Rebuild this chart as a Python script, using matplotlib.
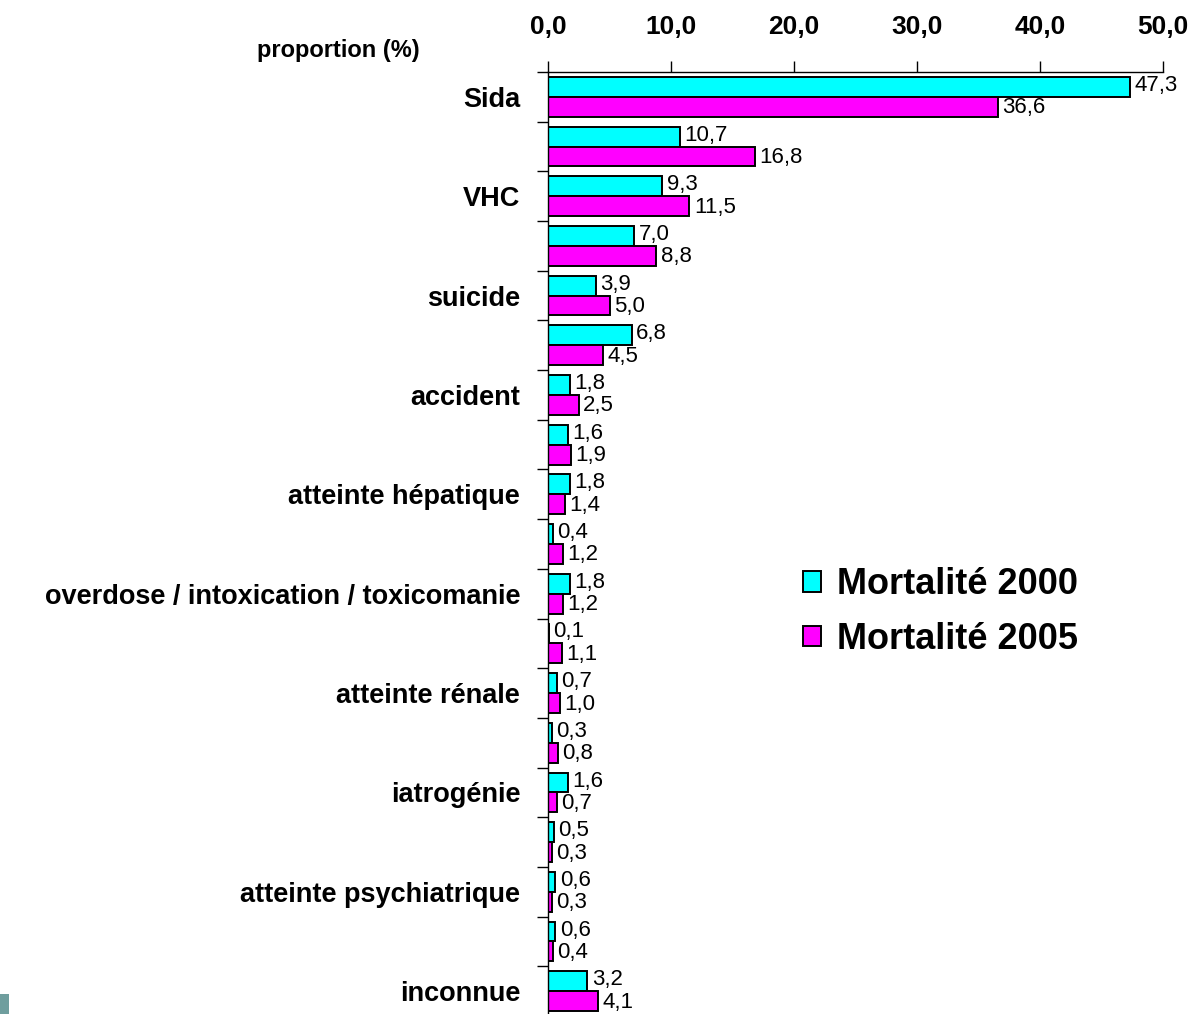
import numpy as np
import matplotlib
matplotlib.use('Agg')
import matplotlib.pyplot as plt
from matplotlib.patches import Rectangle

plt.rcParams['font.family'] = ['Liberation Sans', 'DejaVu Sans']

# categories (only every other one carries a label)
categories = ['Sida', '', 'VHC', '', 'suicide', '', 'accident', '',
              'atteinte hépatique', '', 'overdose / intoxication / toxicomanie', '',
              'atteinte rénale', '', 'iatrogénie', '', 'atteinte psychiatrique', '',
              'inconnue']
mort_2000 = [47.3, 10.7, 9.3, 7.0, 3.9, 6.8, 1.8, 1.6, 1.8, 0.4,
             1.8, 0.1, 0.7, 0.3, 1.6, 0.5, 0.6, 0.6, 3.2]
mort_2005 = [36.6, 16.8, 11.5, 8.8, 5.0, 4.5, 2.5, 1.9, 1.4, 1.2,
             1.2, 1.1, 1.0, 0.8, 0.7, 0.3, 0.3, 0.4, 4.1]
x_ticks = [0, 10, 20, 30, 40, 50]
series_names = ['Mortalité 2000', 'Mortalité 2005']


def fmt(v):
    return '{:.1f}'.format(v).replace('.', ',')


fig = plt.figure(figsize=(11.96, 10.14), dpi=100)
ax = fig.add_axes([548 / 1196, -0.002, (1163 - 548) / 1196, 1 - 72 / 1014 + 0.002])

y = np.arange(len(categories))
h = 0.4
b1 = ax.barh(y - h / 2, mort_2000, height=h, color='#00ffff', edgecolor='black',
             linewidth=1.4, label=series_names[0])
b2 = ax.barh(y + h / 2, mort_2005, height=h, color='#ff00ff', edgecolor='black',
             linewidth=1.4, label=series_names[1])

# value labels
for yi, v in zip(y, mort_2000):
    ax.text(v + 0.35, yi - h / 2 - 0.03, fmt(v), va='center', ha='left', fontsize=16)
for yi, v in zip(y, mort_2005):
    ax.text(v + 0.35, yi + h / 2 + 0.02, fmt(v), va='center', ha='left', fontsize=16)

ax.set_xlim(0, 50)
ax.set_ylim(len(categories) - 0.5, -0.5)
ax.xaxis.tick_top()
ax.set_xticks(x_ticks)
ax.set_xticklabels([fmt(t) for t in x_ticks], fontsize=19, fontweight='bold')
ax.tick_params(axis='x', direction='out', length=8, width=1, pad=16)

ax.set_yticks(y)
ax.set_yticklabels(categories, fontsize=19.5, fontweight='bold')
ax.tick_params(axis='y', which='major', length=0, pad=20)
ax.set_yticks(np.arange(-0.5, len(categories), 1.0), minor=True)
ax.tick_params(axis='y', which='minor', length=8, width=1, direction='out')

for side in ['right', 'bottom']:
    ax.spines[side].set_visible(False)
ax.spines['top'].set_linewidth(1)
ax.spines['left'].set_linewidth(1)

fig.text(420 / 1196, 1 - 50 / 1014, 'proportion (%)', ha='right', va='center',
         fontsize=17, fontweight='bold')

leg = fig.legend(handles=[b1, b2], loc='upper left',
                 bbox_to_anchor=(785 / 1196, 1 - 549 / 1014), frameon=False,
                 prop={'size': 26, 'weight': 'bold'}, handlelength=0.5,
                 handleheight=0.5, handletextpad=0.45, labelspacing=0.55,
                 borderpad=0)

# small slide marker bottom left
fig.patches.append(Rectangle((0, 0), 9 / 1196, 20 / 1014, transform=fig.transFigure,
                             facecolor='#6f9e9e', edgecolor='none'))

fig.savefig('out.png', dpi=100)
